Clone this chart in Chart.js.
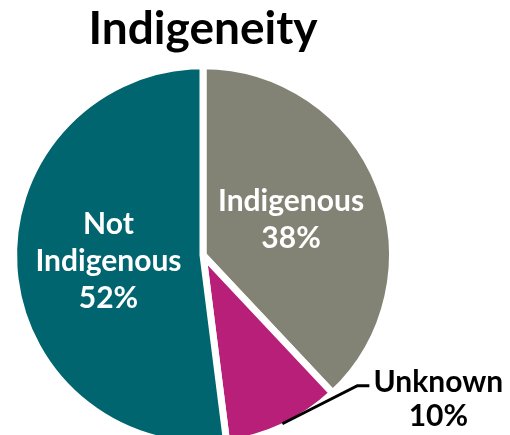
<!DOCTYPE html>
<html>
<head>
<meta charset="utf-8">
<script src="https://cdn.jsdelivr.net/npm/chart.js@4.4.1/dist/chart.umd.min.js"></script>
<style>
  html, body { margin: 0; padding: 0; background: #fff; overflow: hidden; }
  #wrap { position: relative; width: 510px; height: 470px; }
</style>
</head>
<body>
<div id="wrap"><canvas id="chartIndigeneity"></canvas></div>
<script>
// Datos del gráfico (sentido horario desde las 12)
const categorias = ['Indigenous', 'Unknown', 'Not Indigenous'];
const porcentajes = [38, 10, 52];
const colores = ['#838375', '#B71F79', '#00656F'];

// Etiquetas dentro de cada porción; las pequeñas van afuera con línea guía
const etiquetasPie = {
    id: 'etiquetasPie',
    afterDatasetsDraw(chart) {
        const ctx = chart.ctx;
        const arcs = chart.getDatasetMeta(0).data;
        ctx.save();
        ctx.font = 'bold 30px Lato';
        ctx.textAlign = 'center';
        ctx.textBaseline = 'middle';
        arcs.forEach((arc, i) => {
            const lineas = categorias[i].split(' ').concat(porcentajes[i] + '%');
            if (porcentajes[i] < 15) {
                const { x, y, startAngle, endAngle, outerRadius } =
                    arc.getProps(['x', 'y', 'startAngle', 'endAngle', 'outerRadius'], true);
                const medio = (startAngle + endAngle) / 2;
                const r = outerRadius - 3;
                const ax = x + Math.cos(medio) * r;
                const ay = y + Math.sin(medio) * r;
                // línea guía
                ctx.strokeStyle = '#000';
                ctx.lineWidth = 3;
                ctx.beginPath();
                ctx.moveTo(ax, ay);
                ctx.lineTo(ax + 75, ay - 38);
                ctx.lineTo(ax + 87, ay - 38);
                ctx.stroke();
                ctx.fillStyle = '#000';
                const cx = ax + 156, cy = ay - 24;
                lineas.forEach((t, k) => ctx.fillText(t, cx, cy + (k - (lineas.length - 1) / 2) * 34));
            } else {
                const p = arc.tooltipPosition(true);
                ctx.fillStyle = '#fff';
                lineas.forEach((t, k) => ctx.fillText(t, p.x, p.y + (k - (lineas.length - 1) / 2) * 37));
            }
        });
        ctx.restore();
    }
};

new Chart(document.getElementById('chartIndigeneity'), {
    type: 'pie',
    data: {
        labels: categorias,
        datasets: [{
            data: porcentajes,
            backgroundColor: colores,
            borderColor: '#fff',
            borderWidth: 7,
            borderJoinStyle: 'miter'
        }]
    },
    options: {
        responsive: true,
        maintainAspectRatio: false,
        animation: false,
        layout: { padding: { top: 0, left: 0, right: 104, bottom: 22 } },
        plugins: {
            legend: { display: false },
            tooltip: { enabled: false },
            title: {
                display: true,
                text: 'Indigeneity',
                color: '#000',
                font: { family: 'Lato', size: 46, weight: 'bold', lineHeight: 1.2 },
                padding: { top: 2, bottom: 5 }
            }
        }
    },
    plugins: [etiquetasPie]
});
</script>
</body>
</html>
